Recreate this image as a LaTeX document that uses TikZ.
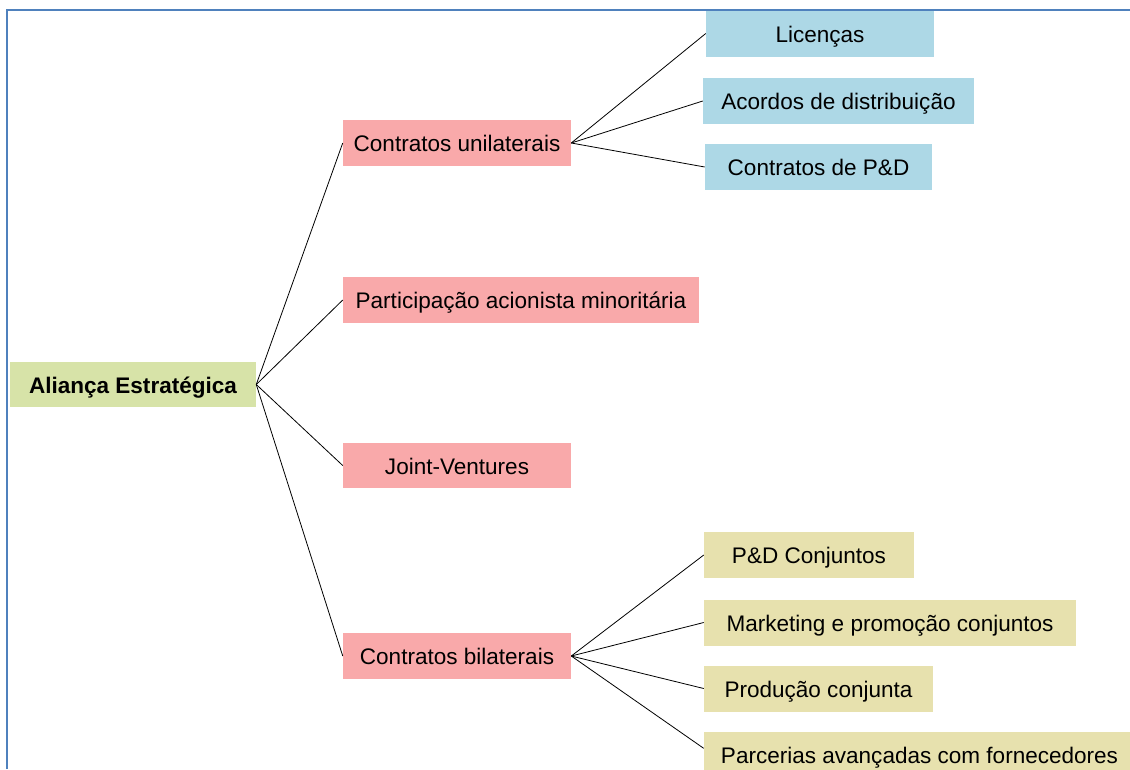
\documentclass[tikz,border=0pt]{standalone}
\usepackage{fontspec}
\setmainfont{Liberation Sans}
\definecolor{rootgreen}{RGB}{215,227,168}
\definecolor{catpink}{RGB}{249,169,170}
\definecolor{leafblue}{RGB}{173,216,230}
\definecolor{leaftan}{RGB}{231,225,174}
\definecolor{framblue}{RGB}{79,129,189}
\begin{document}
\begin{tikzpicture}[x=0.75pt,y=-0.75pt,
  box/.style={inner sep=0pt, minimum height=34.5pt, align=center,
    text height=16pt, text depth=3pt,
    font=\fontsize{16.9}{20}\selectfont},
  rootbox/.style={box, fill=rootgreen, font=\fontsize{16.9}{20}\selectfont\bfseries},
  catbox/.style={box, fill=catpink},
  bluebox/.style={box, fill=leafblue},
  tanbox/.style={box, fill=leaftan},
  link/.style={draw=black, line width=0.6pt}]
\clip (0,0) rectangle (1130,769);
\fill[white] (0,0) rectangle (1130,769);

% root
\node[rootbox, minimum width=184.5pt, minimum height=33.75pt] (root) at (133,384.5) {Aliança Estratégica};

% main categories
\node[catbox, minimum width=171pt] (cu) at (457,143) {Contratos unilaterais};
\node[catbox, minimum width=267pt, minimum height=34pt] (pam) at (521,300) {Participação acionista minoritária};
\node[catbox, minimum width=171pt, minimum height=34pt] (jv) at (457,465.5) {Joint-Ventures};
\node[catbox, minimum width=171pt] (cb) at (457,656) {Contratos bilaterais};

% unilateral contracts
\node[bluebox, minimum width=171pt] (lic) at (820,33.5) {Licenças};
\node[bluebox, minimum width=203.25pt] (acd) at (838.5,101) {Acordos de distribuição};
\node[bluebox, minimum width=170.25pt] (cpd) at (818.5,167) {Contratos de P\&D};

% bilateral contracts
\node[tanbox, minimum width=157.5pt] (pdc) at (809,555) {P\&D Conjuntos};
\node[tanbox, minimum width=279pt] (mkt) at (890,622.5) {Marketing e promoção conjuntos};
\node[tanbox, minimum width=171.75pt] (prc) at (818.5,688.5) {Produção conjunta};
\node[tanbox, minimum width=323.25pt] (par) at (919.5,755) {Parcerias avançadas com fornecedores};

% connectors
\foreach \t in {cu,pam,jv,cb} \draw[link] (root.east) -- (\t.west);
\foreach \t in {lic,acd,cpd} \draw[link] (cu.east) -- (\t.west);
\foreach \t in {pdc,mkt,prc} \draw[link] (cb.east) -- (\t.west);
\draw[link] (cb.east) -- ([yshift=5pt]par.west);

% frame
\draw[framblue, line width=1.6pt] (7,769) -- (7,10) -- (1130,10);
\end{tikzpicture}
\end{document}
